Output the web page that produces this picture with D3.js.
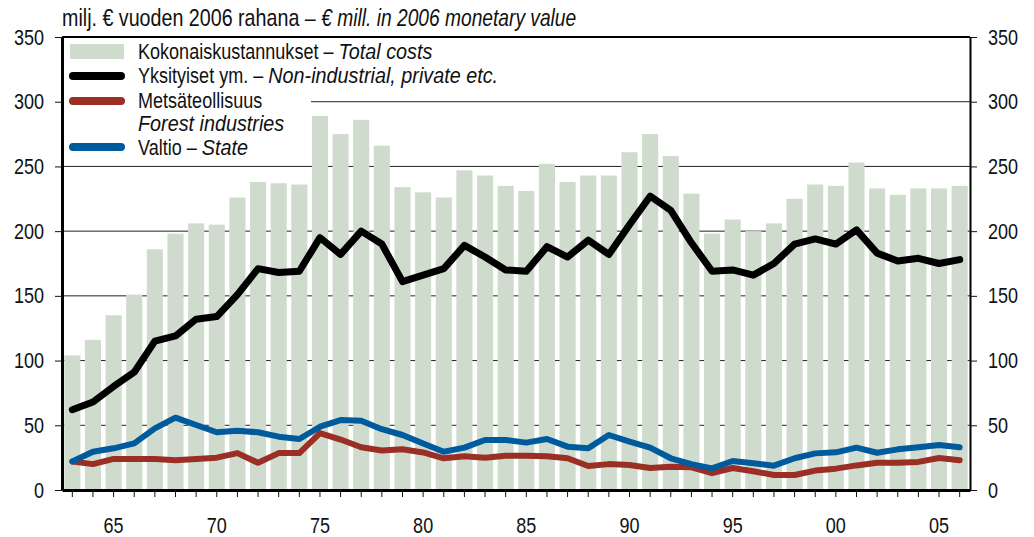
<!DOCTYPE html>
<html>
<head>
<meta charset="utf-8">
<script src="https://cdn.jsdelivr.net/npm/d3@7"></script>
<style>
  body { margin: 0; background: #fff; }
  #chart text { font-family: "Liberation Sans", Arial, sans-serif; fill: #111; white-space: pre; }
</style>
</head>
<body>
<div id="chart"></div>
<script>
// data
const years = [1963, 1964, 1965, 1966, 1967, 1968, 1969, 1970, 1971, 1972, 1973, 1974, 1975, 1976, 1977,
  1978, 1979, 1980, 1981, 1982, 1983, 1984, 1985, 1986, 1987, 1988, 1989, 1990, 1991, 1992, 1993,
  1994, 1995, 1996, 1997, 1998, 1999, 2000, 2001, 2002, 2003, 2004, 2005, 2006];
const totalCosts = [104, 116, 135, 151, 186, 198, 206, 205, 226, 238, 237, 236, 289, 275, 286, 266,
  234, 230, 226, 247, 243, 235, 231, 252, 238, 243, 243, 261, 275, 258, 229, 198, 209, 200, 206,
  225, 236, 235, 253, 233, 228, 233, 233, 235];
const privateEtc = [62, 68, 80, 91, 115, 119, 132, 134, 151, 171, 168, 169, 195, 182, 200, 190,
  161, 166, 171, 189, 180, 170, 169, 188, 180, 193, 182, 205, 227, 216, 191, 169, 170, 166, 175,
  190, 194, 190, 201, 183, 177, 179, 175, 178];
const forestInd = [22, 20, 24, 24, 24, 23, 24, 25, 28.5, 21, 28.5, 28.5, 44, 39, 33, 30.5,
  31.5, 29, 24.5, 26, 25, 26.5, 26.5, 26, 24.5, 18.5, 20, 19.3, 17, 18, 17.5, 13, 17, 14.5, 11.6,
  11.6, 15, 16.5, 19, 21, 21, 21.7, 24.7, 23];
const state = [22, 29.6, 32.2, 36, 47.6, 55.9, 50.2, 44.6, 45.8, 44.6, 41.2, 39.4, 48.9, 54, 53.5, 47,
  42.5, 36, 29.6, 32.7, 38.6, 38.6, 36.6, 39.4, 33.5, 32.2, 42.5, 37.3, 32.7, 24.5, 20, 16.7, 22.4,
  20.6, 18.8, 24.5, 28.3, 29.1, 32.7, 28.8, 31.4, 33, 34.8, 33];
const yTicks = [0, 50, 100, 150, 200, 250, 300, 350];

const W = 1034, H = 537;
const pLeft = 62, pRight = 970, pTop = 37, pBottom = 490;
const squeeze = 0.82; // condensed look

const svg = d3.select("#chart").append("svg")
    .attr("width", W)
    .attr("height", H);

// move x/y into a transform so text can be squeezed horizontally
function narrow(sel, k = squeeze) {
  sel.each(function() {
    const t = d3.select(this);
    const tx = +t.attr("x") || 0, ty = +t.attr("y") || 0;
    t.attr("x", 0).attr("y", 0)
     .attr("transform", `translate(${tx},${ty}) scale(${k},1)`);
  });
}

// label with an upright part followed by an italic part
function label(parent, lx, ly, size, upright, italic, kUp, kIt) {
  let w = 0;
  if (upright) {
    const a = parent.append("text").attr("x", lx).attr("y", ly)
        .style("font-size", size).text(upright);
    w = a.node().getComputedTextLength() * kUp;
    a.call(narrow, kUp);
  }
  if (italic) {
    parent.append("text").attr("x", lx + w).attr("y", ly)
        .style("font-size", size).style("font-style", "italic")
        .text(italic)
        .call(narrow, kIt);
  }
}

const x = d3.scaleBand()
    .domain(years)
    .range([pLeft, pRight])
    .paddingInner(0.22)
    .paddingOuter(0.11);

const y = d3.scaleLinear()
    .domain([0, 350])
    .range([pBottom, pTop]);

// gridlines (behind the bars)
svg.append("g")
  .selectAll("line")
  .data(yTicks.filter(d => d > 0 && d < 350))
  .enter().append("line")
    .attr("x1", pLeft).attr("x2", pRight)
    .attr("y1", d => y(d)).attr("y2", d => y(d))
    .attr("stroke", "#222")
    .attr("stroke-width", 1);

// bars
svg.append("g")
  .selectAll("rect")
  .data(totalCosts)
  .enter().append("rect")
    .attr("x", (d, i) => x(years[i]))
    .attr("y", d => y(d))
    .attr("width", x.bandwidth())
    .attr("height", d => y(0) - y(d))
    .attr("fill", "#cfdccd");

// legend background
svg.append("rect")
    .attr("x", pLeft + 1).attr("y", pTop + 1)
    .attr("width", 248).attr("height", 122)
    .attr("fill", "#fff");

// lines
const line = data => d3.line()
    .x((d, i) => x(years[i]) + x.bandwidth() / 2)
    .y(d => y(d))(data);

const series = [
  { data: forestInd, color: "#9b2f25", width: 6 },
  { data: state, color: "#005b9e", width: 6 },
  { data: privateEtc, color: "#000", width: 7 }
];
series.forEach(s => {
  svg.append("path")
      .attr("d", line(s.data))
      .attr("fill", "none")
      .attr("stroke", s.color)
      .attr("stroke-width", s.width)
      .attr("stroke-linejoin", "round")
      .attr("stroke-linecap", "round");
});

// axes
const fs = "22px";
const yl = svg.append("g")
    .attr("transform", `translate(${pLeft},0)`)
    .call(d3.axisLeft(y).tickValues(yTicks).tickSize(7).tickPadding(11).tickSizeOuter(0));
const yr = svg.append("g")
    .attr("transform", `translate(${pRight},0)`)
    .call(d3.axisRight(y).tickValues(yTicks).tickSize(7).tickPadding(11).tickSizeOuter(0));
const xb = svg.append("g")
    .attr("transform", `translate(0,${pBottom})`)
    .call(d3.axisBottom(x).tickSize(7).tickPadding(20).tickSizeOuter(0)
      .tickFormat(d => d % 5 === 0 ? String(d).slice(2) : ""));

[yl, yr, xb].forEach(g => {
  g.selectAll("text").style("font-size", fs).attr("fill", "#111").call(narrow);
  g.selectAll(".tick line").attr("stroke", "#111");
});
yl.select(".domain").attr("stroke", "#000").attr("stroke-width", 3);
yr.select(".domain").attr("stroke", "#000").attr("stroke-width", 2);
xb.select(".domain").attr("stroke", "#000").attr("stroke-width", 3);

// top frame
svg.append("line")
    .attr("x1", pLeft).attr("x2", pRight)
    .attr("y1", y(350)).attr("y2", y(350))
    .attr("stroke", "#000").attr("stroke-width", 2);

// unit title
label(svg, 62, 26, "24px", "milj. € vuoden 2006 rahana – ", "€ mill. in 2006 monetary value", 0.82, 0.8);

// legend
const lg = svg.append("g");
lg.append("rect")
    .attr("x", 70).attr("y", 44)
    .attr("width", 54).attr("height", 15)
    .attr("fill", "#cfdccd");
[[76, "#000"], [101, "#9b2f25"], [147, "#005b9e"]].forEach(([ly, c]) => {
  lg.append("line")
      .attr("x1", 73).attr("x2", 121)
      .attr("y1", ly).attr("y2", ly)
      .attr("stroke", c).attr("stroke-width", 8)
      .attr("stroke-linecap", "round");
});
const legendText = [
  [59, "Kokonaiskustannukset – ", "Total costs"],
  [83, "Yksityiset ym. – ", "Non-industrial, private etc."],
  [108, "Metsäteollisuus", ""],
  [131, "", "Forest industries"],
  [155, "Valtio – ", "State"]
];
legendText.forEach(([ty, a, b]) => label(lg, 138, ty, "22px", a, b, 0.82, 0.9));
</script>
</body>
</html>
